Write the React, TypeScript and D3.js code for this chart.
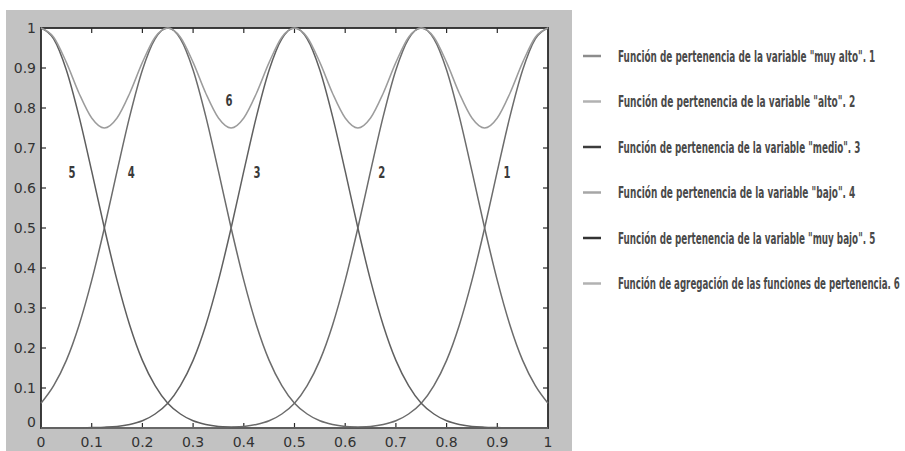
import React, { useEffect, useRef } from 'react';
import * as d3 from 'd3';

// sample positions on the x axis
const xs = [
  0, 0.025, 0.05, 0.075, 0.1, 0.125, 0.15, 0.175, 0.2, 0.225,
  0.25, 0.275, 0.3, 0.325, 0.35, 0.375, 0.4, 0.425, 0.45, 0.475,
  0.5, 0.525, 0.55, 0.575, 0.6, 0.625, 0.65, 0.675, 0.7, 0.725,
  0.75, 0.775, 0.8, 0.825, 0.85, 0.875, 0.9, 0.925, 0.95, 0.975, 1,
];

// membership values
const muyAlto = [
  0, 0, 0, 0, 0, 0, 0, 0, 0, 0,
  0, 0, 0, 0, 0, 0, 0, 0, 0, 0,
  0, 0, 0, 0, 0.001, 0.002, 0.004, 0.009, 0.018, 0.035,
  0.062, 0.106, 0.169, 0.257, 0.369, 0.5, 0.642, 0.779, 0.895, 0.973, 1,
];
const alto = [
  0, 0, 0, 0, 0, 0, 0, 0, 0, 0,
  0, 0, 0, 0, 0.001, 0.002, 0.004, 0.009, 0.018, 0.035,
  0.062, 0.106, 0.169, 0.257, 0.369, 0.5, 0.642, 0.779, 0.895, 0.973,
  1, 0.973, 0.895, 0.779, 0.642, 0.5, 0.369, 0.257, 0.169, 0.106, 0.062,
];
const medio = [
  0, 0, 0, 0, 0.001, 0.002, 0.004, 0.009, 0.018, 0.035,
  0.062, 0.106, 0.169, 0.257, 0.369, 0.5, 0.642, 0.779, 0.895, 0.973,
  1, 0.973, 0.895, 0.779, 0.642, 0.5, 0.369, 0.257, 0.169, 0.106,
  0.062, 0.035, 0.018, 0.009, 0.004, 0.002, 0.001, 0, 0, 0, 0,
];
const bajo = [
  0.062, 0.106, 0.169, 0.257, 0.369, 0.5, 0.642, 0.779, 0.895, 0.973,
  1, 0.973, 0.895, 0.779, 0.642, 0.5, 0.369, 0.257, 0.169, 0.106,
  0.062, 0.035, 0.018, 0.009, 0.004, 0.002, 0.001, 0, 0, 0,
  0, 0, 0, 0, 0, 0, 0, 0, 0, 0, 0,
];
const muyBajo = [
  1, 0.973, 0.895, 0.779, 0.642, 0.5, 0.369, 0.257, 0.169, 0.106,
  0.062, 0.035, 0.018, 0.009, 0.004, 0.002, 0.001, 0, 0, 0,
  0, 0, 0, 0, 0, 0, 0, 0, 0, 0,
  0, 0, 0, 0, 0, 0, 0, 0, 0, 0, 0,
];
const agregacion = [
  1, 0.977, 0.914, 0.837, 0.775, 0.75, 0.775, 0.837, 0.914, 0.977,
  1, 0.977, 0.914, 0.837, 0.775, 0.75, 0.775, 0.837, 0.914, 0.977,
  1, 0.977, 0.914, 0.837, 0.775, 0.75, 0.775, 0.837, 0.914, 0.977,
  1, 0.977, 0.914, 0.837, 0.775, 0.75, 0.775, 0.837, 0.914, 0.977, 1,
];

const legendLabels = [
  'Función de pertenencia de la variable "muy alto".  1',
  'Función de pertenencia de la variable "alto".  2',
  'Función de pertenencia de la variable "medio".  3',
  'Función de pertenencia de la variable "bajo".  4',
  'Función de pertenencia de la variable "muy bajo".  5',
  'Función de agregación de las funciones de pertenencia.  6',
];

const xTicks = [0, 0.1, 0.2, 0.3, 0.4, 0.5, 0.6, 0.7, 0.8, 0.9, 1];
const yTicks = [0, 0.1, 0.2, 0.3, 0.4, 0.5, 0.6, 0.7, 0.8, 0.9, 1];

// curve number labels inside the plot (data coords)
const curveTags = [
  { tag: '5', x: 0.061, y: 0.64 },
  { tag: '4', x: 0.178, y: 0.64 },
  { tag: '6', x: 0.371, y: 0.82 },
  { tag: '3', x: 0.426, y: 0.64 },
  { tag: '2', x: 0.672, y: 0.64 },
  { tag: '1', x: 0.919, y: 0.64 },
];

const series = [muyAlto, alto, medio, bajo, muyBajo, agregacion];
const plotColors = ['#6c6c6c', '#6c6c6c', '#606060', '#6c6c6c', '#5e5e5e', '#9c9c9c'];
const legendColors = ['#8c8c8c', '#b2b2b2', '#3c3c3c', '#a6a6a6', '#333333', '#b2b2b2'];

export default function App() {
  const svgRef = useRef<SVGSVGElement>(null);

  useEffect(() => {
    if (!svgRef.current) return;
    const svg = d3.select(svgRef.current);
    svg.selectAll('*').remove();

    // grey figure panel
    svg.append('rect')
      .attr('x', 6).attr('y', 10)
      .attr('width', 566).attr('height', 441)
      .style('fill', '#c2c2c2');

    const left = 41, right = 548, top = 28, bottom = 428;
    const x = d3.scaleLinear().domain([0, 1]).range([left, right]);
    const y = d3.scaleLinear().domain([0, 1]).range([bottom, top]);

    svg.append('rect')
      .attr('x', left).attr('y', top)
      .attr('width', right - left).attr('height', bottom - top)
      .style('fill', '#ffffff');

    const tickLen = 5;
    const ax = svg.append('g').style('stroke', '#2a2a2a').style('stroke-width', 1.2);
    xTicks.slice(1, -1).forEach(t => {
      ax.append('line').attr('x1', x(t)).attr('x2', x(t)).attr('y1', bottom).attr('y2', bottom - tickLen);
      ax.append('line').attr('x1', x(t)).attr('x2', x(t)).attr('y1', top).attr('y2', top + tickLen);
    });
    yTicks.slice(1, -1).forEach(t => {
      ax.append('line').attr('x1', left).attr('x2', left + tickLen).attr('y1', y(t)).attr('y2', y(t));
      ax.append('line').attr('x1', right).attr('x2', right - tickLen).attr('y1', y(t)).attr('y2', y(t));
    });
    ax.append('rect')
      .attr('x', left).attr('y', top)
      .attr('width', right - left).attr('height', bottom - top)
      .style('fill', 'none')
      .style('stroke-width', 1.8);

    // tick labels
    const tickFont = "'DejaVu Sans', sans-serif";
    svg.append('g').selectAll('text')
      .data(xTicks)
      .enter()
      .append('text')
      .attr('x', d => x(d))
      .attr('y', 447)
      .attr('text-anchor', 'middle')
      .style('font-family', tickFont)
      .style('font-size', '14px')
      .style('fill', '#333')
      .text(d => `${d}`);

    svg.append('g').selectAll('text')
      .data(yTicks)
      .enter()
      .append('text')
      .attr('x', 36)
      .attr('y', d => (d === 0 ? y(d) - 6 : y(d)))
      .attr('dy', '0.36em')
      .attr('text-anchor', 'end')
      .style('font-family', tickFont)
      .style('font-size', '14px')
      .style('fill', '#333')
      .text(d => `${d}`);

    // curves
    const line = d3.line<number>()
      .x((_, i) => x(xs[i]))
      .y(d => y(d))
      .curve(d3.curveMonotoneX);

    series.forEach((s, i) => {
      svg.append('path')
        .attr('d', line(s))
        .style('fill', 'none')
        .style('stroke', plotColors[i])
        .style('stroke-width', 1.5);
    });

    const condensed = "'DejaVu Sans Condensed', 'Liberation Sans Narrow', sans-serif";
    svg.append('g').selectAll('g')
      .data(curveTags)
      .enter()
      .append('g')
      .attr('transform', d => `translate(${x(d.x)},${y(d.y)}) scale(0.7,1)`)
      .append('text')
      .attr('dy', '0.36em')
      .attr('text-anchor', 'middle')
      .style('font-family', condensed)
      .style('font-size', '16px')
      .style('font-weight', 'bold')
      .style('fill', '#3a3a3a')
      .text(d => d.tag);

    // legend
    const rowY = (i: number) => 56 + i * 45.5;
    const legend = svg.append('g');
    legendLabels.forEach((label, i) => {
      legend.append('line')
        .attr('x1', 583).attr('x2', 601)
        .attr('y1', rowY(i)).attr('y2', rowY(i))
        .style('stroke', legendColors[i])
        .style('stroke-width', 2.5);
      const g = legend.append('g');
      const t = g.append('text')
        .attr('dy', '0.36em')
        .style('font-family', condensed)
        .style('font-size', '15.5px')
        .style('font-weight', 'bold')
        .style('fill', '#4a4a4a')
        .text(label);
      const natural = (t.node() as SVGTextElement).getComputedTextLength() || 1;
      const target = label.length * 4.95;
      g.attr('transform', `translate(618,${rowY(i)}) scale(${target / natural},1)`);
    });
  }, []);

  return (
    <svg
      ref={svgRef}
      width={905}
      height={451}
      style={{ position: 'absolute', left: 0, top: 0, background: '#ffffff' }}
    />
  );
}
